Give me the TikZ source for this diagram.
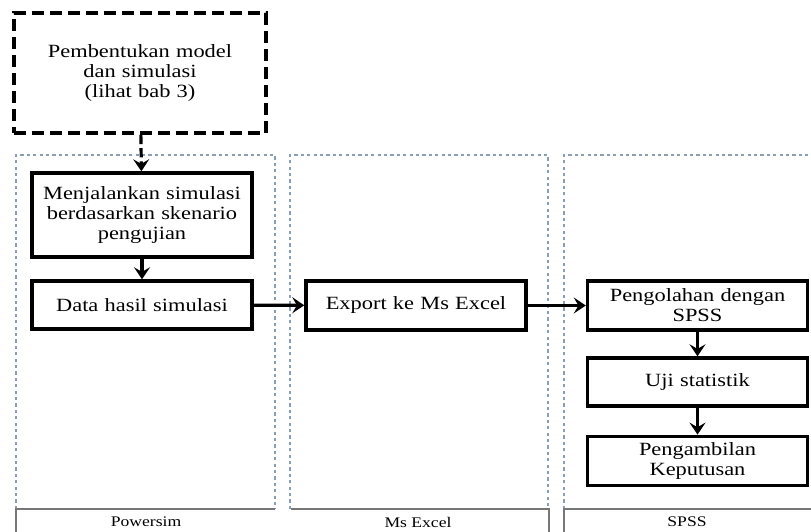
\documentclass[tikz,border=0pt]{standalone}
\usepackage{fontspec}
\setmainfont{Liberation Serif}[FakeStretch=1.2]
\usetikzlibrary{arrows.meta}

\definecolor{lanecolor}{HTML}{8A9DB8}
\definecolor{labelcolor}{HTML}{777777}

\begin{document}
\begin{tikzpicture}[x=0.75pt, y=-0.75pt,
        stepbox/.style={draw, line width=2.6pt, align=center, inner sep=0pt,
            minimum width=165pt, text width=155pt,
            font=\fontsize{14}{15}\selectfont},
        lane/.style={lanecolor, line width=2pt, dash pattern=on 2.4pt off 2.4pt},
        lanelabel/.style={labelcolor, line width=1.4pt},
        flow/.style={line width=2.4pt, -{Stealth[length=9pt, width=12pt, inset=3.5pt]}}]
        \useasboundingbox (0, 0) rectangle (811, 532);

        % swimlanes
        \draw[lane] (16, 509) -- (16, 155) -- (275, 155) -- (275, 509);
        \draw[lane] (290, 509) -- (290, 155) -- (548, 155) -- (548, 509);
        \draw[lane] (564, 509) -- (564, 155) -- (811, 155);

        % lane titles
        \draw[lanelabel] (16, 532) -- (16, 509) -- (275, 509);
        \draw[lanelabel] (291, 509) -- (549, 509) -- (549, 532);
        \draw[lanelabel] (564, 532) -- (564, 509) -- (811, 509);
        \node[font=\fontsize{11}{12}\selectfont] (PS) at (146, 522) {Powersim};
        \node[font=\fontsize{11}{12}\selectfont] (ME) at (418, 522) {Ms Excel};
        \node[font=\fontsize{11}{12}\selectfont] (SP) at (687, 522) {SPSS};

        \node[stepbox, dash pattern=on 9pt off 4.5pt, minimum width=189pt,
            minimum height=90pt, text width=180pt] (MD) at (140, 73)
            {Pembentukan model\\dan simulasi\\(lihat bab 3)};
        \node[stepbox, minimum height=63pt] (SM) at (142, 215)
            {Menjalankan simulasi\\berdasarkan skenario\\pengujian};
        \node[stepbox, minimum height=36pt] (DH) at (142, 305) {Data hasil simulasi};
        \node[stepbox, minimum height=37pt] (EX) at (416, 305.5) {Export ke Ms Excel};
        \node[stepbox, minimum height=37pt] (PG) at (697.5, 305.5) {Pengolahan dengan\\SPSS};
        \node[stepbox, minimum height=36pt] (UJ) at (697.5, 382) {Uji statistik};
        \node[stepbox, minimum height=37pt] (KP) at (697.5, 461) {Pengambilan\\Keputusan};

        \draw[flow, dash pattern=on 7pt off 3pt] (MD) -- (SM);
        \draw[flow] (SM) -- (DH);
        \draw[flow] (DH) -- (EX);
        \draw[flow] (EX) -- (PG);
        \draw[flow] (PG) -- (UJ);
        \draw[flow] (UJ) -- (KP);
    \end{tikzpicture}
\end{document}
